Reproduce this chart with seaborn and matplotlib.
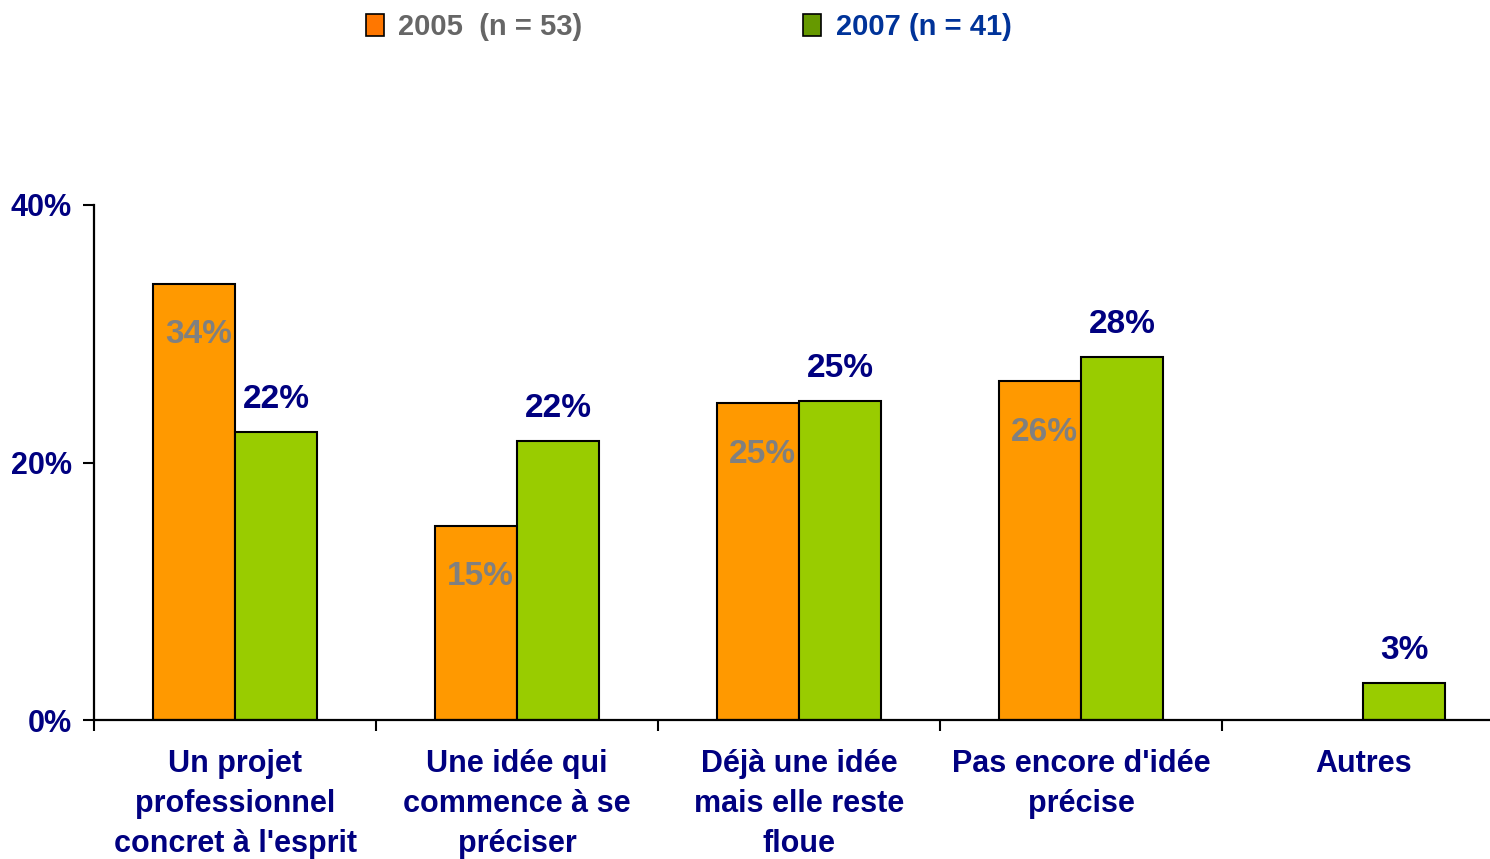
import numpy as np
import pandas as pd
import matplotlib
matplotlib.use("Agg")
import matplotlib.pyplot as plt
from matplotlib.patches import Patch
import seaborn as sns

categories = ["Un projet\nprofessionnel\nconcret à l'esprit",
              "Une idée qui\ncommence à se\npréciser",
              "Déjà une idée\nmais elle reste\nfloue",
              "Pas encore d'idée\nprécise",
              "Autres"]
series_names = ["2005  (n = 53)", "2007 (n = 41)"]
values_2005 = [33.9, 15.1, 24.6, 26.3, np.nan]
values_2007 = [22.4, 21.7, 24.8, 28.2, 2.9]
y_ticks = [0, 20, 40]
y_tick_labels = ["0%", "20%", "40%"]

bar_colors = ["#FF9900", "#99CC00"]
legend_colors = ["#FF7700", "#669900"]
legend_text_colors = ["#666666", "#003399"]
navy = "#000080"
gray = "#808080"

rows = []
for c, v in zip(categories, values_2005):
    if not np.isnan(v):
        rows.append({"cat": c, "series": series_names[0], "value": v})
for c, v in zip(categories, values_2007):
    rows.append({"cat": c, "series": series_names[1], "value": v})
df = pd.DataFrame(rows)

sns.set_theme(style="white")
plt.rcParams["font.family"] = ["Liberation Sans", "DejaVu Sans"]

fig = plt.figure(figsize=(14.9, 8.59), dpi=100)
ax = fig.add_axes([94/1490, 1-720/859, 1-94/1490, (720-205)/859])

sns.barplot(data=df, x="cat", y="value", hue="series", order=categories,
            hue_order=series_names, palette=bar_colors, width=0.58,
            edgecolor="black", linewidth=1.5, errorbar=None, ax=ax, legend=False,
            saturation=1)

# data labels
for container, col, off in zip(ax.containers, [gray, navy], [(3, -37), (0, 23)]):
    for bar in container:
        h = bar.get_height()
        if np.isnan(h) or h == 0:
            continue
        ax.annotate(f"{int(np.floor(h + 0.5))}%",
                    (bar.get_x() + bar.get_width()/2, h),
                    xytext=off, textcoords="offset points",
                    ha="center", va="center", fontsize=24, fontweight="bold", color=col)

ax.set_ylim(0, 40)
ax.set_xlim(-0.5, 4.45)
ax.set_yticks(y_ticks)
ax.set_yticklabels(y_tick_labels)
ax.set_xlabel("")
ax.set_ylabel("")

# category boundaries as major ticks, labels at minor ticks
n = len(categories)
ax.set_xticks(np.arange(n) - 0.5)
ax.set_xticklabels([""] * n)
ax.set_xticks(np.arange(n), minor=True)
ax.set_xticklabels(categories, minor=True)
ax.tick_params(axis="x", which="major", direction="out", length=8, width=1.5,
               color="black", bottom=True)
ax.tick_params(axis="x", which="minor", length=0, pad=21, labelsize=22,
               labelcolor=navy)
for t in ax.get_xticklabels(minor=True):
    t.set_fontweight("bold")
    t.set_linespacing(1.44)
    t.set_va("top")
ax.tick_params(axis="y", direction="out", length=8, width=1.5, color="black",
               left=True, labelsize=22, labelcolor=navy, pad=8)
for t in ax.get_yticklabels():
    t.set_fontweight("bold")

for s in ["top", "right"]:
    ax.spines[s].set_visible(False)
for s in ["left", "bottom"]:
    ax.spines[s].set_color("black")
    ax.spines[s].set_linewidth(1.6)
ax.grid(False)

handles = [Patch(facecolor=c, edgecolor="black", linewidth=1.2) for c in legend_colors]
leg = fig.legend(handles, series_names, loc="upper left",
                 bbox_to_anchor=(360/1490, 1 - 7/859), ncol=2, frameon=False,
                 prop={"size": 21, "weight": "bold"}, handlelength=0.62,
                 handleheight=0.8, handletextpad=0.5, columnspacing=7.55,
                 borderaxespad=0, borderpad=0.2)
for t, c in zip(leg.get_texts(), legend_text_colors):
    t.set_color(c)

fig.savefig("out.png", dpi=100)
